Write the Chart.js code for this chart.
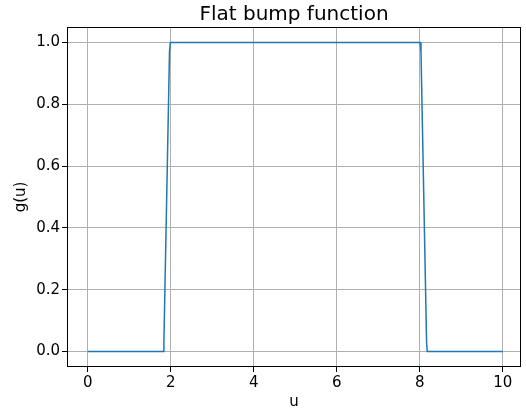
<!DOCTYPE html>
<html>
<head>
<meta charset="utf-8">
<script src="https://cdn.jsdelivr.net/npm/chart.js@4/dist/chart.umd.min.js"></script>
<style>
  body { margin: 0; background: #fff; }
</style>
</head>
<body>
<canvas id="bump-chart" width="526" height="414"></canvas>
<script>
// values
const uValues = [0, 1.82, 1.835, 1.97, 1.99, 8.01, 8.03, 8.165, 8.18, 10];
const gValues = [0, 0, 0.03, 0.97, 1.0, 1.0, 0.97, 0.03, 0, 0];
const xTicks = [0, 2, 4, 6, 8, 10];
const yTicks = [0, 0.2, 0.4, 0.6, 0.8, 1.0];

const font = { family: 'DejaVu Sans', size: 15 };

// matplotlib draws a full box round the axes
const frame = {
    id: 'frame',
    afterDraw(chart) {
        const a = chart.chartArea;
        const ctx = chart.ctx;
        ctx.save();
        ctx.strokeStyle = '#000';
        ctx.lineWidth = 1;
        ctx.strokeRect(a.left + 0.5, a.top + 0.5, a.right - a.left - 1, a.bottom - a.top - 1);
        ctx.restore();
    }
};

const ctx = document.getElementById('bump-chart');
new Chart(ctx, {
    type: 'line',
    data: {
        datasets: [{
            data: uValues.map((u, i) => ({ x: u, y: gValues[i] })),
            borderColor: '#1f77b4',
            borderWidth: 1.5,
            pointRadius: 0,
            tension: 0,
            fill: false
        }]
    },
    options: {
        responsive: false,
        animation: false,
        layout: { padding: { left: 0, right: 5, top: 0, bottom: 0 } },
        plugins: {
            legend: { display: false },
            tooltip: { enabled: false },
            title: {
                display: true,
                text: 'Flat bump function',
                fullSize: false,
                color: '#000',
                font: { family: 'DejaVu Sans', size: 20, weight: 'normal' },
                padding: { top: 3, bottom: 0 }
            }
        },
        scales: {
            x: {
                type: 'linear',
                min: -0.5,
                max: 10.44,
                afterBuildTicks: s => { s.ticks = xTicks.map(v => ({ value: v })); },
                afterFit: s => { s.height = 47; },
                ticks: { color: '#000', font: font, padding: 2, maxRotation: 0 },
                grid: { color: '#b0b0b0', tickColor: '#000', tickLength: 5, lineWidth: 1 },
                border: { display: false },
                title: { display: true, text: 'u', color: '#000', font: font, padding: { top: 0, bottom: 3 } }
            },
            y: {
                min: -0.05,
                max: 1.05,
                afterBuildTicks: s => { s.ticks = yTicks.map(v => ({ value: v })); },
                afterFit: s => { s.width = 67; },
                ticks: { color: '#000', font: font, padding: 2, callback: v => v.toFixed(1) },
                grid: { color: '#b0b0b0', tickColor: '#000', tickLength: 5, lineWidth: 1 },
                border: { display: false },
                title: { display: true, text: 'g(u)', color: '#000', font: font, padding: { top: 12, bottom: 0 } }
            }
        }
    },
    plugins: [frame]
});
</script>
</body>
</html>
